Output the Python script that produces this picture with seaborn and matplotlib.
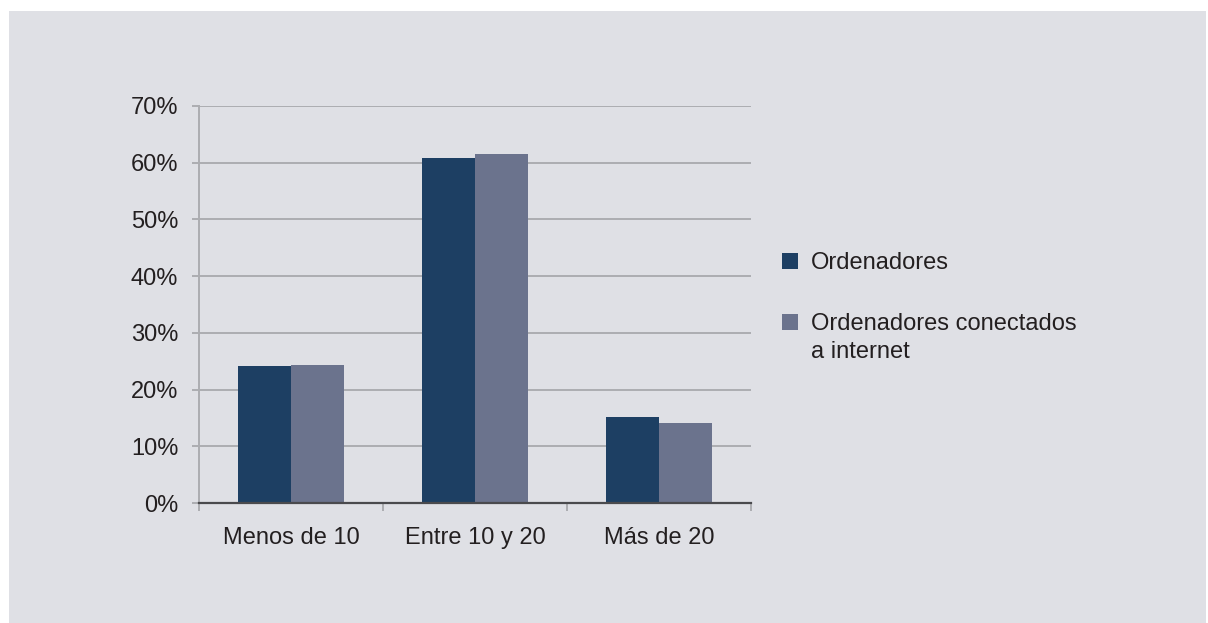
import matplotlib
matplotlib.use("Agg")
import matplotlib.pyplot as plt
import matplotlib.patches as mpatches
from matplotlib.ticker import FuncFormatter, FixedLocator
import seaborn as sns
import pandas as pd

categories = ["Menos de 10", "Entre 10 y 20", "Más de 20"]
series_names = ["Ordenadores", "Ordenadores conectados"]
label_cont = "a internet"  # second line of the second legend label
ordenadores = [24.2, 60.8, 15.2]
conectados = [24.4, 61.6, 14.1]
colors = ["#1d3f63", "#6b738d"]

BG = "#dfe0e5"
GRID = "#acadb1"
TXT = "#231f20"
FS = 17

df = pd.DataFrame({
    "cat": categories * 2,
    "serie": [series_names[0]] * 3 + [series_names[1]] * 3,
    "valor": ordenadores + conectados,
})

sns.set_style("white")
plt.rcParams["font.family"] = ["Liberation Sans", "DejaVu Sans"]

W, H = 1208, 623
fig = plt.figure(figsize=(W / 100, H / 100), dpi=100)
fig.patch.set_facecolor("white")
# grey panel behind everything
fig.patches.append(mpatches.Rectangle((9 / W, 0), 1197 / W, 612 / H,
                                      transform=fig.transFigure, facecolor=BG,
                                      edgecolor="none", zorder=-10))

ax = fig.add_axes([199 / W, 1 - 503 / H, 552 / W, 397 / H])
ax.set_facecolor(BG)

sns.barplot(data=df, x="cat", y="valor", hue="serie", palette=colors,
            width=0.58, gap=0, saturation=1, linewidth=0, ax=ax,
            legend=False, zorder=3)

ax.set_ylim(0, 70)
ax.set_xlim(-0.5, 2.5)
ax.set_yticks(range(0, 71, 10))
ax.yaxis.set_major_formatter(FuncFormatter(lambda v, p: f"{int(v)}%"))
ax.grid(axis="y", color=GRID, linewidth=1.4, zorder=0)
ax.set_axisbelow(True)

ax.set_xlabel("")
ax.set_ylabel("")

for s in ["top", "right"]:
    ax.spines[s].set_visible(False)
ax.spines["left"].set_color(GRID)
ax.spines["left"].set_linewidth(1.4)
ax.spines["bottom"].set_color("#4a4a4d")
ax.spines["bottom"].set_linewidth(1.6)
ax.spines["bottom"].set_zorder(5)

ax.tick_params(axis="y", length=5, width=1.4, color=GRID, pad=10,
               labelsize=FS, labelcolor=TXT, left=True)
ax.tick_params(axis="x", which="major", length=0, pad=17,
               labelsize=FS, labelcolor=TXT)
ax.xaxis.set_minor_locator(FixedLocator([-0.5, 0.5, 1.5, 2.5]))
ax.tick_params(axis="x", which="minor", length=6, width=1.4, color=GRID,
               direction="out", bottom=True)

handles = [mpatches.Patch(facecolor=c, edgecolor="none") for c in colors]
leg = fig.legend(handles, series_names, loc="upper left",
                 bbox_to_anchor=(761 / W, 1 - 231 / H), frameon=False,
                 fontsize=FS, handlelength=0.65, handleheight=0.65,
                 handletextpad=0.55, labelspacing=1.65, labelcolor=TXT)

# put the continuation line under the second legend label
fig.canvas.draw()
bb = leg.get_texts()[1].get_window_extent()
fig.text(bb.x0 / W, (bb.y0 - 28) / H, label_cont, fontsize=FS, color=TXT,
         ha="left", va="bottom")

fig.savefig("out.png", dpi=100, facecolor=fig.get_facecolor())
